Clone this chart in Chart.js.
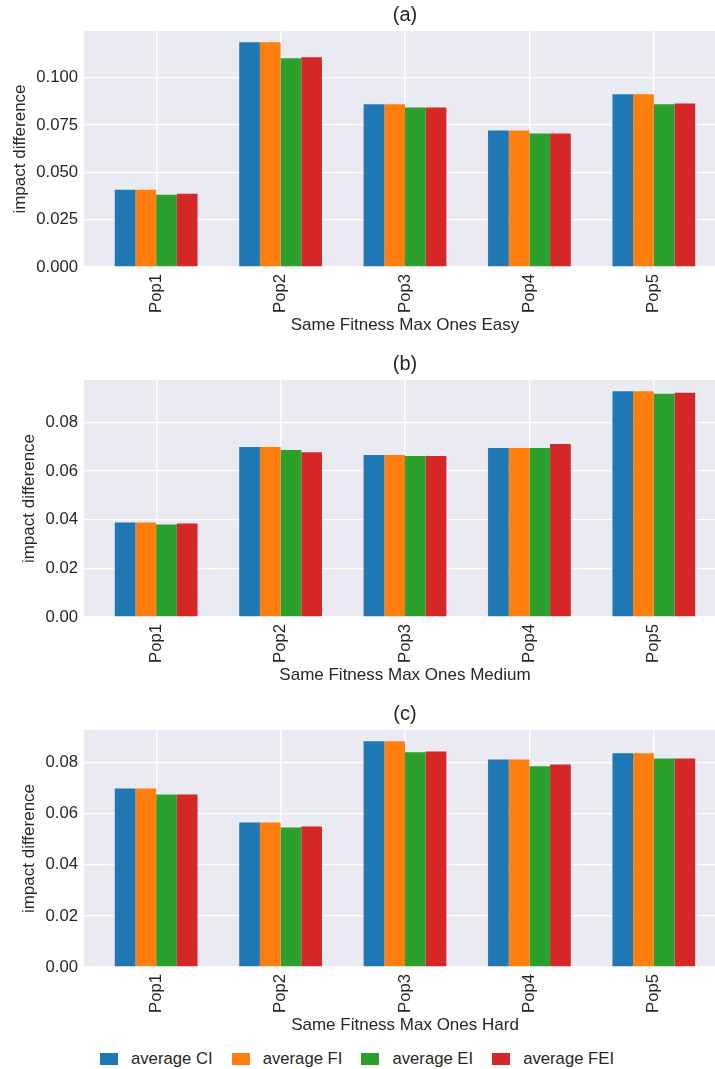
<!DOCTYPE html>
<html>
<head>
<meta charset="utf-8">
<script src="https://cdn.jsdelivr.net/npm/chart.js@4/dist/chart.umd.min.js"></script>
<style>
  html, body { margin: 0; padding: 0; background: #ffffff; width: 715px; height: 1069px; overflow: hidden; }
  .panel { position: absolute; left: 0; }
  #legend { position: absolute; left: 100px; top: 1049px; display: flex; align-items: center;
            font-family: "Liberation Sans", Arial, sans-serif; font-size: 16.7px; color: #262626; }
  .item { display: flex; align-items: center; margin-right: 19px; }
  .sw { width: 18px; height: 12.5px; margin-right: 13px; }
</style>
</head>
<body>
<div class="panel" style="top:0px"><canvas id="cA" width="727" height="346"></canvas></div>
<div class="panel" style="top:350px"><canvas id="cB" width="727" height="346"></canvas></div>
<div class="panel" style="top:700px"><canvas id="cC" width="727" height="346"></canvas></div>
<div id="legend"></div>
<script>
const categories = ['Pop1', 'Pop2', 'Pop3', 'Pop4', 'Pop5'];
const seriesNames = ['average CI', 'average FI', 'average EI', 'average FEI'];
const seriesColors = ['#1f77b4', '#ff7f0e', '#2ca02c', '#d62728'];

// (a) Same Fitness Max Ones Easy
const easyCI  = [0.0408, 0.1187, 0.0859, 0.0721, 0.0912];
const easyFI  = [0.0408, 0.1187, 0.0859, 0.0721, 0.0912];
const easyEI  = [0.0382, 0.1102, 0.0843, 0.0705, 0.0859];
const easyFEI = [0.0387, 0.1108, 0.0843, 0.0705, 0.0864];
// (b) Same Fitness Max Ones Medium
const mediumCI  = [0.0388, 0.0698, 0.0665, 0.0694, 0.0927];
const mediumFI  = [0.0388, 0.0698, 0.0665, 0.0694, 0.0927];
const mediumEI  = [0.0380, 0.0686, 0.0661, 0.0694, 0.0917];
const mediumFEI = [0.0384, 0.0677, 0.0661, 0.0710, 0.0921];
// (c) Same Fitness Max Ones Hard
const hardCI  = [0.0699, 0.0566, 0.0884, 0.0813, 0.0837];
const hardFI  = [0.0699, 0.0566, 0.0884, 0.0813, 0.0837];
const hardEI  = [0.0676, 0.0546, 0.0841, 0.0786, 0.0817];
const hardFEI = [0.0676, 0.0550, 0.0844, 0.0793, 0.0817];

const panelTitles = ['(a)', '(b)', '(c)'];
const xTitles = ['Same Fitness Max Ones Easy', 'Same Fitness Max Ones Medium', 'Same Fitness Max Ones Hard'];
const yTitle = 'impact difference';
const yTickSteps = [0.025, 0.02, 0.02];
const yTickDecimals = [3, 2, 2];

const FONT = '"Liberation Sans", Arial, sans-serif';
const TEXT = '#262626';

const bgPlugin = {
  id: 'plotBg',
  beforeDraw(chart) {
    const a = chart.chartArea, ctx = chart.ctx;
    ctx.save();
    ctx.fillStyle = '#EAEAF2';
    ctx.fillRect(a.left, a.top, a.right - a.left, a.bottom - a.top);
    ctx.restore();
  }
};

function makeChart(canvasId, idx, series, yTitlePad) {
  const all = series.flat();
  const yMax = Math.max(...all) * 1.05;
  const datasets = series.map((vals, i) => ({
    label: seriesNames[i],
    data: vals.map((v, j) => ({ x: j, y: v })),
    backgroundColor: seriesColors[i],
    borderWidth: 0,
    categoryPercentage: 0.665,
    barPercentage: 1.0
  }));
  return new Chart(document.getElementById(canvasId), {
    type: 'bar',
    data: { datasets },
    plugins: [bgPlugin],
    options: {
      responsive: false,
      devicePixelRatio: 1,
      animation: false,
      layout: { padding: { left: 0, right: 1, top: 0, bottom: 0 } },
      plugins: {
        legend: { display: false },
        tooltip: { enabled: false },
        title: {
          display: true,
          text: panelTitles[idx],
          fullSize: false,
          color: TEXT,
          font: { family: FONT, size: 20, weight: 'normal' },
          padding: { top: idx === 0 ? 3 : 2, bottom: 4 }
        }
      },
      scales: {
        x: {
          type: 'linear',
          min: -0.58,
          max: 4.58,
          offset: false,
          grid: { color: '#ffffff', lineWidth: 1.3, drawTicks: false, offset: false },
          border: { display: false },
          ticks: {
            stepSize: 1,
            includeBounds: false,
            autoSkip: false,
            minRotation: 90,
            maxRotation: 90,
            padding: 7,
            color: TEXT,
            font: { family: FONT, size: 16.7 },
            callback: (v) => (Number.isInteger(v) && categories[v] !== undefined) ? categories[v] : ''
          },
          title: {
            display: true,
            text: xTitles[idx],
            color: TEXT,
            font: { family: FONT, size: 17 },
            padding: { top: 0, bottom: 10 }
          },
          afterFit: (s) => { s.height = 79; }
        },
        y: {
          type: 'linear',
          min: 0,
          max: yMax,
          grid: { color: '#ffffff', lineWidth: 1.3, drawTicks: false },
          border: { display: false },
          ticks: {
            stepSize: yTickSteps[idx],
            includeBounds: false,
            padding: 6,
            color: TEXT,
            font: { family: FONT, size: 16.7 },
            callback: (v) => Number(v).toFixed(yTickDecimals[idx])
          },
          title: {
            display: true,
            text: yTitle,
            color: TEXT,
            font: { family: FONT, size: 17 },
            padding: { top: yTitlePad, bottom: 0 }
          },
          afterFit: (s) => { s.width = 84; }
        }
      }
    }
  });
}

makeChart('cA', 0, [easyCI, easyFI, easyEI, easyFEI], 10);
makeChart('cB', 1, [mediumCI, mediumFI, mediumEI, mediumFEI], 19);
makeChart('cC', 2, [hardCI, hardFI, hardEI, hardFEI], 19);

const legend = document.getElementById('legend');
seriesNames.forEach((name, i) => {
  const item = document.createElement('div');
  item.className = 'item';
  const sw = document.createElement('div');
  sw.className = 'sw';
  sw.style.background = seriesColors[i];
  const t = document.createElement('span');
  t.textContent = name;
  item.appendChild(sw);
  item.appendChild(t);
  legend.appendChild(item);
});
</script>
</body>
</html>
